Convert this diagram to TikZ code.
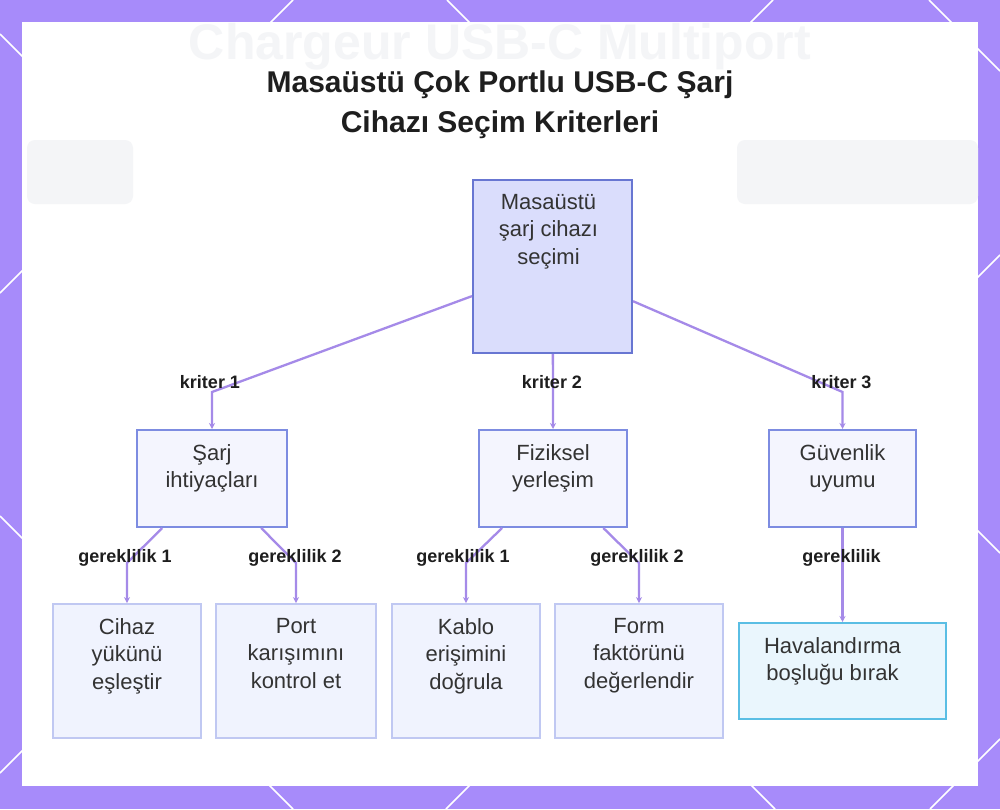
\documentclass[tikz,border=0pt]{standalone}
\usepackage{fontspec}
\setmainfont{Liberation Sans}
\usepackage{tikz}
\usetikzlibrary{arrows.meta, positioning, calc}
\definecolor{BgPurple}{RGB}{167,139,250}
\definecolor{EdgePurple}{RGB}{165,138,232}
\definecolor{RootFill}{RGB}{218,221,252}
\definecolor{RootLine}{RGB}{104,118,210}
\definecolor{MidFill}{RGB}{244,245,254}
\definecolor{MidLine}{RGB}{125,140,225}
\definecolor{LeafFill}{RGB}{240,243,254}
\definecolor{LeafLine}{RGB}{192,200,242}
\definecolor{CyanLine}{RGB}{90,190,228}
\definecolor{CyanFill}{RGB}{234,246,253}
\definecolor{InkDark}{RGB}{30,30,30}
\definecolor{InkText}{RGB}{51,51,51}
\definecolor{Ghost}{RGB}{244,245,247}

\begin{document}
\begin{tikzpicture}[
    x=1pt, y=-1pt,
    flow/.style={-{Stealth[length=6pt, width=6pt]}, line width=2.3pt, EdgePurple},
    deco/.style={white, line width=1.5pt},
    txt/.style={anchor=north, inner sep=0pt, yshift=-15pt, align=center,
        font=\fontsize{22}{27.5}\selectfont, text=InkText},
    root/.style={draw=RootLine, line width=2pt, fill=RootFill, minimum width=159pt,
        minimum height=173pt, label={[txt, xshift=-4pt]north:{#1}}},
    mid/.style={draw=MidLine, line width=2pt, fill=MidFill, minimum width=148pt,
        minimum height=97pt, label={[txt]north:{#1}}},
    leaf/.style={draw=LeafLine, line width=1.8pt, fill=LeafFill, minimum width=148pt,
        minimum height=134pt, label={[txt]north:{#1}}},
    lbl/.style={anchor=base, inner sep=0pt, text=InkDark,
        font=\fontsize{18}{20}\selectfont\bfseries},
]
\useasboundingbox (0,0) rectangle (1000,809);

% rahmen und muster
\fill[BgPurple] (0,0) rectangle (1000,809);
\draw[deco] (0,34) -- (775,809);
\draw[deco] (0,516) -- (293,809);
\draw[deco] (447,0) -- (1000,553);
\draw[deco] (929,0) -- (1000,71);
\draw[deco] (293,0) -- (0,293);
\draw[deco] (773,0) -- (0,773);
\draw[deco] (1000,255) -- (446,809);
\draw[deco] (1000,739) -- (930,809);
\fill[white] (22,22) rectangle (978,786);

% blasser hintergrund
\node[text=Ghost, font=\fontsize{50}{50}\selectfont\bfseries] (ghost) at (500,47) {Chargeur USB-C Multiport};
\fill[Ghost, rounded corners=8pt] (27,140) rectangle (133,204);
\fill[Ghost, rounded corners=8pt] (737,140) rectangle (978,204);

% titel
\node[anchor=north, inner sep=0pt, align=center, text=InkDark,
      font=\fontsize{30}{40}\selectfont\bfseries] (title) at (500,71)
    {Masaüstü Çok Portlu USB-C Şarj\\Cihazı Seçim Kriterleri};

% ================= boxen =================
\node[root={Masaüstü\\şarj cihazı\\seçimi}] (secim) at (552.5,266.5) {};

\node[mid={Şarj\\ihtiyaçları}, minimum width=150pt] (sarj) at (212,478.5) {};
\node[mid={Fiziksel\\yerleşim}] (fiziksel) at (553,478.5) {};
\node[mid={Güvenlik\\uyumu}, minimum width=147pt] (guvenlik) at (842.5,478.5) {};

\node[leaf={Cihaz\\yükünü\\eşleştir}] (cihaz) at (127,671) {};
\node[leaf={Port\\karışımını\\kontrol et}, minimum width=160pt] (port) at (296,671) {};
\node[leaf={Kablo\\erişimini\\doğrula}] (kablo) at (466,671) {};
\node[leaf={Form\\faktörünü\\değerlendir}, minimum width=168pt] (form) at (639,671) {};
\node[draw=CyanLine, line width=2pt, fill=CyanFill, minimum width=207pt, minimum height=96pt,
      label={[txt, xshift=-10pt]north:{Havalandırma\\boşluğu bırak}}] (havalandirma) at (842.5,671) {};

% ================= knicke =================
\coordinate (k1) at (212,392);
\coordinate (k2) at (553,392);
\coordinate (k3) at (842.5,392);
\coordinate (g1) at (127,563);
\coordinate (g2) at (296,563);
\coordinate (g3) at (466,563);
\coordinate (g4) at (639,563);
\coordinate (g5) at (842.5,563);

\draw[flow] (secim) -- (k1) -- (sarj);
\draw[flow] (secim) -- (k2) -- (fiziksel);
\draw[flow] (secim) -- (k3) -- (guvenlik);
\draw[flow] (sarj) -- (g1) -- (cihaz);
\draw[flow] (sarj) -- (g2) -- (port);
\draw[flow] (fiziksel) -- (g3) -- (kablo);
\draw[flow] (fiziksel) -- (g4) -- (form);
\draw[flow] (guvenlik) -- (g5) -- (havalandirma);

% beschriftungen
\node[lbl] (l1) at ($(k1)+(-2,-4)$) {kriter 1};
\node[lbl] (l2) at ($(k2)+(-1,-4)$) {kriter 2};
\node[lbl] (l3) at ($(k3)+(-1,-4)$) {kriter 3};
\node[lbl] (l4) at ($(g1)+(-2,-1)$) {gereklilik 1};
\node[lbl] (l5) at ($(g2)+(-1,-1)$) {gereklilik 2};
\node[lbl] (l6) at ($(g3)+(-3,-1)$) {gereklilik 1};
\node[lbl] (l7) at ($(g4)+(-2,-1)$) {gereklilik 2};
\node[lbl] (l8) at ($(g5)+(-1,-1)$) {gereklilik};

\end{tikzpicture}
\end{document}
